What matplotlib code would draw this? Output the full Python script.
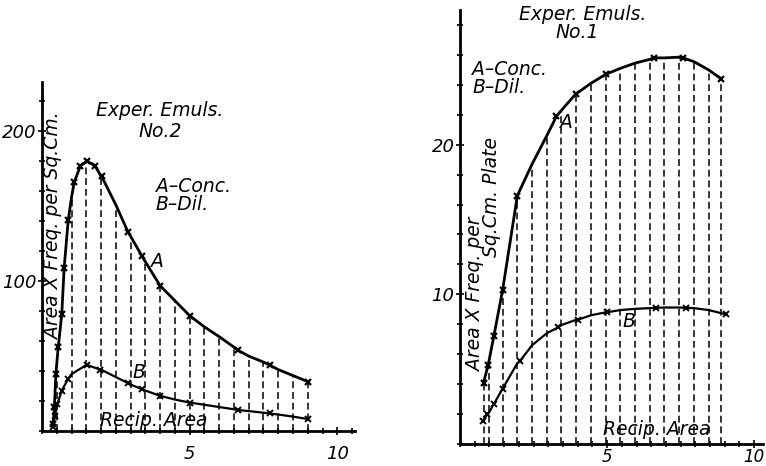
import numpy as np
import matplotlib
matplotlib.use("Agg")
import matplotlib.pyplot as plt
from matplotlib.ticker import MultipleLocator, FixedLocator

# ---------------- Left panel: Exper. Emuls. No.2 ----------------
left_A_x = [0.38, 0.42, 0.47, 0.55, 0.67, 0.75, 0.89, 1.09, 1.30, 1.54, 1.80, 2.02,
            2.91, 3.38, 4.00, 5.00, 6.63, 7.71, 9.00]
left_A_y = [5, 16, 38, 56, 78, 109, 141, 166, 177, 180, 177, 170,
            133, 117, 97, 77, 54, 44, 33]
left_B_x = [0.38, 0.44, 0.52, 0.67, 0.89, 1.54, 1.97, 2.91, 3.38, 4.00, 5.00, 6.63, 7.71, 9.00]
left_B_y = [3, 10, 18, 27, 35, 44, 41, 32, 28, 23.5, 19, 14, 11.7, 8]
left_grid_x = [0.5, 1.0, 1.5, 2.0, 2.5, 3.0, 3.5, 4.0, 4.5, 5.0, 5.5, 6.0, 6.5,
               7.0, 7.5, 8.0, 8.5, 9.0]
left_grid_A = [45, 156, 180, 170, 151, 130, 113, 97, 87, 77, 69.5, 63, 56,
               50, 46, 41, 37, 33]
left_grid_B = [16, 38, 44, 41, 36, 31, 27, 23.5, 21, 19, 17.5, 16, 14.5,
               13.3, 12.2, 11, 9.6, 8]

# ---------------- Right panel: Exper. Emuls. No.1 ----------------
right_A_x = [0.80, 0.96, 1.15, 1.45, 1.95, 3.28, 3.94, 4.95, 6.58, 7.58, 8.88]
right_A_y = [4.1, 5.3, 7.2, 10.3, 16.6, 21.9, 23.4, 24.7, 25.8, 25.8, 24.4]
right_B_x = [0.79, 0.93, 1.15, 1.45, 2.04, 3.34, 4.00, 5.00, 6.65, 7.67, 9.03]
right_B_y = [1.56, 2.0, 2.67, 3.7, 5.55, 7.8, 8.3, 8.8, 9.1, 9.1, 8.67]
right_grid_x = [0.80, 0.97, 1.45, 1.95, 2.45, 2.95, 3.45, 3.95, 4.45, 4.95, 5.45,
                5.95, 6.45, 6.95, 7.45, 7.95, 8.45, 8.88]
right_grid_A = [4.1, 5.4, 10.3, 16.6, 18.7, 20.6, 22.3, 23.4, 24.1, 24.7, 25.1,
                25.45, 25.7, 25.8, 25.85, 25.55, 25.0, 24.4]
right_grid_B = [1.58, 2.05, 3.7, 5.4, 6.6, 7.4, 7.95, 8.3, 8.6, 8.8, 8.95,
                9.03, 9.08, 9.12, 9.12, 9.08, 8.95, 8.75]

FAMILY, FS, TFS = "DejaVu Sans", 13.5, 13
FONT = dict(family=FAMILY, style="italic", color="black", fontsize=FS)


def merged(xa, ya, xb, yb):
    d = {}
    for x, y in zip(xb, yb):
        d[round(x, 3)] = y
    for x, y in zip(xa, ya):
        d[round(x, 3)] = y
    xs = sorted(d)
    return xs, [d[x] for x in xs]


def style_axes(ax, xpad, xfs):
    for s in ("top", "right"):
        ax.spines[s].set_visible(False)
    for s in ("left", "bottom"):
        ax.spines[s].set_linewidth(2.0)
    ax.tick_params(which="both", direction="inout", width=1.2, colors="black")
    ax.tick_params(which="major", length=6)
    ax.tick_params(which="minor", length=5)
    ax.tick_params(axis="x", pad=xpad)
    ax.tick_params(axis="y", pad=1)
    for lab in ax.get_yticklabels():
        lab.set_fontstyle("italic")
        lab.set_family(FAMILY)
        lab.set_fontsize(TFS)
    for lab in ax.get_xticklabels():
        lab.set_fontstyle("italic")
        lab.set_family(FAMILY)
        lab.set_fontsize(xfs)


def draw_panel(ax, A_x, A_y, B_x, B_y, gx, gA, gB):
    ax.vlines(gx, 0, gA, colors="black", linestyles=(0, (4.5, 2.5)), linewidth=1.1)
    lx, ly = merged(A_x, A_y, gx, gA)
    ax.plot(lx, ly, color="black", lw=2.0, solid_joinstyle="round")
    bx, by = merged(B_x, B_y, gx[:-1], gB[:-1])
    ax.plot(bx, by, color="black", lw=1.6, solid_joinstyle="round")
    ax.plot(A_x, A_y, ls="none", marker="x", ms=4.5, mew=1.6, color="black")
    ax.plot(B_x, B_y, ls="none", marker="x", ms=4.0, mew=1.4, color="black")


fig = plt.figure(figsize=(7.66, 4.66), dpi=100)
W, H = 766, 466

# Left axes
axL = fig.add_axes([42 / W, (H - 431) / H, 313 / W, 349 / H])
axL.set_xlim(0, 10.6)
axL.set_ylim(0, 233)
draw_panel(axL, left_A_x, left_A_y, left_B_x, left_B_y,
           left_grid_x, left_grid_A, left_grid_B)
axL.xaxis.set_major_locator(FixedLocator([5, 10]))
axL.xaxis.set_minor_locator(MultipleLocator(0.5))
axL.yaxis.set_major_locator(FixedLocator([100, 200]))
axL.yaxis.set_minor_locator(MultipleLocator(20))
axL.set_xticklabels(["5", "10"])
axL.set_yticklabels(["100", "200"])
style_axes(axL, 7, TFS)

axL.text(4.0, 214, "Exper. Emuls.", ha="center", va="center", **FONT)
axL.text(4.0, 200, "No.2", ha="center", va="center", **FONT)
axL.text(3.85, 163, "A\u2013Conc.", ha="left", va="center", **FONT)
axL.text(3.85, 151, "B\u2013Dil.", ha="left", va="center", **FONT)
axL.text(3.9, 113, "A", ha="center", va="center", **FONT)
axL.text(3.27, 39, "B", ha="center", va="center", **FONT)
axL.text(1.95, 7, "Recip. Area", ha="left", va="center", **FONT)
axL.text(0.38, 137, "Area X Freq. per Sq.Cm.", ha="center", va="center",
         rotation=90, **FONT)

# Right axes: y 0 at px 444, 29 at px 10
axR = fig.add_axes([460 / W, (H - 444) / H, 303 / W, 434 / H])
axR.set_xlim(0, 10.3)
axR.set_ylim(0, 29)
draw_panel(axR, right_A_x, right_A_y, right_B_x, right_B_y,
           right_grid_x, right_grid_A, right_grid_B)
axR.xaxis.set_major_locator(FixedLocator([5, 10]))
axR.xaxis.set_minor_locator(MultipleLocator(0.5))
axR.yaxis.set_major_locator(FixedLocator([10, 20]))
axR.yaxis.set_minor_locator(MultipleLocator(2))
axR.set_xticklabels(["5", "10"])
axR.set_yticklabels(["10", "20"])
style_axes(axR, 0, 12)

axR.text(4.17, 28.7, "Exper. Emuls.", ha="center", va="center", **FONT)
axR.text(3.97, 27.5, "No.1", ha="center", va="center", **FONT)
axR.text(0.42, 25.0, "A\u2013Conc.", ha="left", va="center", **FONT)
axR.text(0.42, 23.8, "B\u2013Dil.", ha="left", va="center", **FONT)
axR.text(3.63, 21.5, "A", ha="center", va="center", **FONT)
axR.text(5.73, 8.2, "B", ha="center", va="center", **FONT)
axR.text(4.85, 0.95, "Recip. Area", ha="left", va="center", **FONT)
axR.text(0.51, 10.0, "Area X Freq. per", ha="center", va="center",
         rotation=90, **FONT)
axR.text(1.08, 16.5, "Sq.Cm. Plate", ha="center", va="center",
         rotation=90, **FONT)

fig.savefig("out.png", dpi=100, facecolor="white")
